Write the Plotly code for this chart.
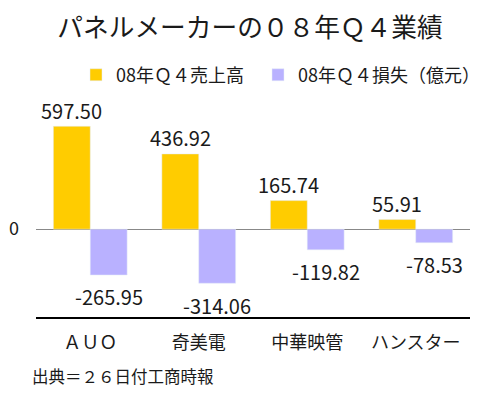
import plotly.graph_objects as go

categories = ["ＡＵＯ", "奇美電", "中華映管", "ハンスター"]
sales = [597.50, 436.92, 165.74, 55.91]
losses = [-265.95, -314.06, -119.82, -78.53]
sales_name = "08年Ｑ４売上高"
loss_name = "08年Ｑ４損失（億元）"
title_text = "パネルメーカーの０８年Ｑ４業績"
source_text = "出典＝２６日付工商時報"

FONT = "Noto Sans CJK JP"
YELLOW = "#FFCC00"
PURPLE = "#B9B1FF"
TEXT = "#1a1a1a"

# page body has an 8px margin, so the figure is 16px smaller and offset
W, H = 473, 380
PL, PR, PT, PB = 28, 11, 92, 70.5
plot_w = W - PL - PR
plot_h = H - PT - PB

fig = go.Figure()
fig.add_trace(go.Bar(x=categories, y=sales, name=sales_name, marker_color=YELLOW,
                     legend="legend"))
fig.add_trace(go.Bar(x=categories, y=losses, name=loss_name, marker_color=PURPLE,
                     legend="legend2"))

annotations = []
for i, (s, l) in enumerate(zip(sales, losses)):
    annotations.append(dict(x=i - 0.17, y=s, xref="x", yref="y", text=f"{s:.2f}",
                            showarrow=False, yshift=16, yanchor="middle",
                            font=dict(family=FONT, size=20, color=TEXT)))
    annotations.append(dict(x=i + 0.17, y=l, xref="x", yref="y", text=f"{l:.2f}",
                            showarrow=False, yshift=-22, yanchor="middle",
                            font=dict(family=FONT, size=20, color=TEXT)))
annotations.append(dict(x=-6 / plot_w, y=-(368.5 - (H - PB)) / plot_h,
                        xref="paper", yref="paper", text=source_text,
                        showarrow=False, xanchor="left", yanchor="middle",
                        font=dict(family=FONT, size=16.5, color=TEXT)))

legend_common = dict(orientation="h", xanchor="left", y=1.115, yanchor="middle",
                     font=dict(family=FONT, size=18, color=TEXT), bgcolor="rgba(0,0,0,0)")

fig.update_layout(
    width=W, height=H,
    margin=dict(l=PL, r=PR, t=PT, b=PB, autoexpand=False),
    paper_bgcolor="white", plot_bgcolor="white",
    font=dict(family=FONT, color=TEXT),
    title=dict(text=title_text, x=242 / W, xanchor="center", y=1 - 20 / H, yanchor="middle",
               font=dict(family=FONT, size=25.7, color=TEXT)),
    barmode="group", bargap=0.32, bargroupgap=0,
    legend=dict(x=(76 - 36) / plot_w, **legend_common),
    legend2=dict(x=(258 - 36) / plot_w, **legend_common),
    xaxis=dict(showline=True, linecolor="black", linewidth=2, ticks="", showgrid=False,
               automargin=False,
               tickfont=dict(family=FONT, size=18, color=TEXT), ticklabelstandoff=8),
    yaxis=dict(range=[-510, 750], tickvals=[0], ticktext=["0"], showgrid=False,
               automargin=False,
               zeroline=True, zerolinecolor="#888", zerolinewidth=1, showline=False,
               tickfont=dict(family=FONT, size=18, color=TEXT), ticklabelstandoff=16),
    annotations=annotations,
    showlegend=True,
)

fig.write_html("out.html")
